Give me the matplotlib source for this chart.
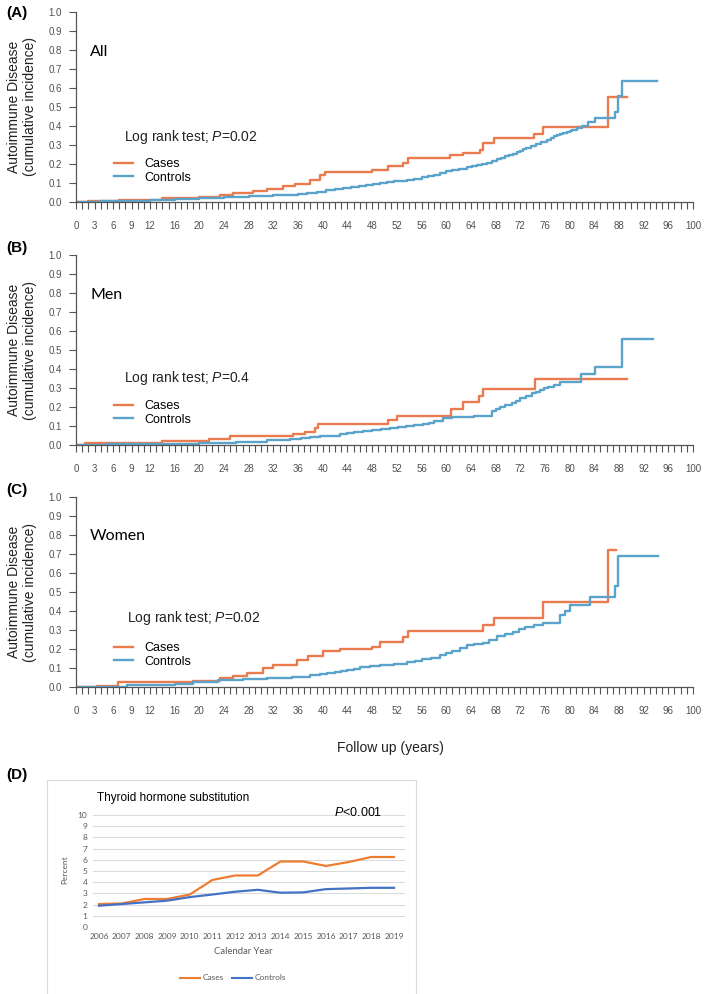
import matplotlib
matplotlib.use("Agg")
import matplotlib.pyplot as plt
from matplotlib.lines import Line2D
from matplotlib.patches import Rectangle

plt.rcParams['font.family'] = ['Liberation Sans', 'DejaVu Sans']
plt.rcParams['mathtext.fontset'] = 'custom'
plt.rcParams['mathtext.rm'] = 'Liberation Sans'
plt.rcParams['mathtext.it'] = 'Liberation Sans:italic'

# ---- Kaplan-Meier style cumulative incidence ----
a_case_t = [0, 2, 7, 14, 20, 23.3, 25.5, 28.7, 31, 33.5, 35.5, 38, 39.5, 40.3, 48, 50.6, 53, 53.8,
            60.6, 62.7, 65.5, 66, 67.7, 74.2, 75.7, 86.2, 89.3]
a_case_v = [0, 0.005, 0.012, 0.02, 0.028, 0.037, 0.048, 0.058, 0.068, 0.085, 0.095, 0.116, 0.143, 0.16,
            0.17, 0.19, 0.205, 0.23, 0.25, 0.26, 0.275, 0.31, 0.335, 0.36, 0.395, 0.55, 0.55]
a_ctrl_t = [0, 4, 8, 12, 16, 20, 24, 28, 32, 34, 36, 37.5, 39, 40.5, 42, 43.3, 44.5, 45.8, 47, 48.2, 49.3,
            50.4, 51.5, 52.6, 53.6, 54.8, 56, 57, 58, 59, 60, 61, 62, 63.3, 64.2, 65, 65.8, 66.6, 67.4,
            68.2, 68.9, 69.5, 70.2, 70.8, 71.4, 72, 72.5, 73, 73.8, 74.5, 75.4, 76.3, 77, 77.5, 78, 78.4,
            79, 79.5, 80, 80.4, 81.2, 82, 83, 84.1, 87.4, 87.8, 88.5, 94.2]
a_ctrl_v = [0, 0.004, 0.007, 0.01, 0.014, 0.02, 0.025, 0.03, 0.035, 0.038, 0.042, 0.048, 0.055, 0.061,
            0.068, 0.074, 0.08, 0.085, 0.09, 0.095, 0.1, 0.104, 0.108, 0.112, 0.116, 0.123, 0.13, 0.137,
            0.143, 0.153, 0.165, 0.17, 0.175, 0.186, 0.19, 0.195, 0.2, 0.205, 0.215, 0.227, 0.233, 0.24,
            0.247, 0.254, 0.261, 0.268, 0.277, 0.285, 0.295, 0.305, 0.316, 0.328, 0.337, 0.345, 0.352,
            0.36, 0.365, 0.37, 0.375, 0.38, 0.39, 0.4, 0.42, 0.44, 0.476, 0.556, 0.635, 0.635]

b_case_t = [0, 1.4, 14, 21.5, 25, 35.2, 37.1, 38.7, 39.2, 50.6, 52, 60.8, 62.7, 65.3, 66, 74.4, 89.3]
b_case_v = [0, 0.009, 0.02, 0.03, 0.045, 0.058, 0.07, 0.09, 0.11, 0.13, 0.153, 0.19, 0.225, 0.26, 0.297,
            0.347, 0.347]
b_ctrl_t = [0, 5, 12, 20, 26, 31, 34.7, 36.5, 38, 39.5, 41, 42.8, 44, 45, 46.5, 48, 49.5, 50.9, 52.2,
            53.5, 54.8, 56.2, 57.2, 58, 59.5, 61, 62, 64.5, 66.8, 67.4, 68, 68.7, 69.6, 70.6, 71.3, 72,
            73, 73.9, 74.5, 75.2, 75.9, 76.5, 77.5, 78.4, 81.8, 84.1, 88.5, 93.5]
b_ctrl_v = [0, 0.004, 0.007, 0.012, 0.018, 0.024, 0.03, 0.035, 0.04, 0.045, 0.05, 0.057, 0.062, 0.068,
            0.073, 0.078, 0.084, 0.09, 0.095, 0.1, 0.105, 0.11, 0.118, 0.125, 0.14, 0.145, 0.148, 0.152,
            0.155, 0.178, 0.19, 0.2, 0.21, 0.22, 0.232, 0.245, 0.258, 0.272, 0.28, 0.29, 0.298, 0.305,
            0.318, 0.33, 0.372, 0.41, 0.558, 0.558]

c_case_t = [0, 3.4, 6.8, 19, 23.3, 25.4, 27.7, 30.3, 32, 35.8, 37.6, 40, 42.8, 48, 49.3, 53, 53.8, 66,
            67.7, 75.7, 86.2, 87.5]
c_case_v = [0, 0.005, 0.027, 0.03, 0.047, 0.058, 0.074, 0.1, 0.116, 0.142, 0.163, 0.19, 0.2, 0.21, 0.237,
            0.264, 0.295, 0.326, 0.363, 0.446, 0.72, 0.72]
c_ctrl_t = [0, 8.3, 16, 19, 23, 27, 31, 35, 38, 39.5, 40.7, 42, 43, 44, 45, 46, 47.7, 49.3, 51.5, 53.6,
            55, 56, 57.5, 59, 60, 61, 62.2, 63.3, 64.5, 66, 67, 68.2, 69.5, 70.8, 71.8, 72.8, 74.2, 75.7,
            78.4, 79.2, 80, 83.3, 87.4, 87.8, 94.3]
c_ctrl_v = [0, 0.01, 0.016, 0.027, 0.035, 0.042, 0.048, 0.053, 0.062, 0.068, 0.074, 0.078, 0.082, 0.09,
            0.097, 0.105, 0.11, 0.116, 0.123, 0.13, 0.138, 0.145, 0.155, 0.168, 0.178, 0.19, 0.205, 0.22,
            0.225, 0.23, 0.25, 0.27, 0.28, 0.29, 0.305, 0.317, 0.327, 0.337, 0.38, 0.40, 0.43, 0.473,
            0.53, 0.69, 0.69]

x_labels = [0, 3, 6, 9, 12] + list(range(16, 101, 4))

# ---- panel D ----
years = list(range(2006, 2020))
d_cases = [2.05, 2.1, 2.5, 2.5, 2.9, 4.2, 4.6, 4.6, 5.85, 5.85, 5.45, 5.8, 6.25, 6.25]
d_ctrls = [1.9, 2.05, 2.2, 2.35, 2.67, 2.9, 3.15, 3.32, 3.06, 3.09, 3.38, 3.44, 3.5, 3.5]

orange = '#E97B4F'
blue = '#5AA3CB'
W, H = 709, 994

fig = plt.figure(figsize=(W / 100, H / 100), dpi=100)


def px(x, y):
    return x / W, 1 - y / H


def km_panel(bottom_px, case_t, case_v, ctrl_t, ctrl_v, letter, group, ptext,
             letter_y, group_y, p_xy, leg_y):
    left, right, top = 76, 693, bottom_px - 190
    ax = fig.add_axes([left / W, 1 - bottom_px / H, (right - left) / W, 190 / H])
    ax.step(case_t, case_v, where='post', color=orange, lw=1.7)
    ax.step(ctrl_t, ctrl_v, where='post', color=blue, lw=1.7)
    ax.set_xlim(0, 100)
    ax.set_ylim(0, 1)
    ax.spines['top'].set_visible(False)
    ax.spines['right'].set_visible(False)
    for s in ['left', 'bottom']:
        ax.spines[s].set_color('#555555')
        ax.spines[s].set_linewidth(0.9)
    ax.set_yticks([i / 10 for i in range(11)])
    ax.set_yticklabels([f'{i / 10:.1f}' for i in range(11)])
    ax.set_xticks(range(0, 101))
    ax.set_xticklabels([str(i) if i in x_labels else '' for i in range(0, 101)])
    ax.tick_params(axis='both', colors='#555555', labelsize=7, labelcolor='#505050',
                   length=5, width=0.8)
    ax.tick_params(axis='x', pad=9)
    ax.tick_params(axis='y', pad=5)

    fig.text(*px(22, (top + bottom_px) / 2), 'Autoimmune Disease\n(cumulative incidence)',
             rotation=90, ha='center', va='center', fontsize=10, linespacing=1.15,
             color='#222222')
    fig.text(*px(6, letter_y), letter, fontsize=11, fontweight='bold', va='center')
    fig.text(*px(90, group_y), group, fontsize=11.5, va='center', family=['Lato', 'DejaVu Sans'])
    fig.text(*px(*p_xy), ptext, fontsize=10, va='center', color='#222222')

    handles = [Line2D([], [], color=orange, lw=1.7), Line2D([], [], color=blue, lw=1.7)]
    ax.legend(handles, ['Cases', 'Controls'], loc='center left',
              bbox_to_anchor=px(114, leg_y), bbox_transform=fig.transFigure,
              frameon=False, fontsize=9, handlelength=1.5, handletextpad=0.9,
              labelspacing=0.1, borderpad=0, borderaxespad=0)
    return ax


km_panel(202, a_case_t, a_case_v, a_ctrl_t, a_ctrl_v, '(A)', 'All',
         r'Log rank test; $\it{P}$=0.02', 13, 52, (124, 137), 171)
km_panel(445, b_case_t, b_case_v, b_ctrl_t, b_ctrl_v, '(B)', 'Men',
         r'Log rank test; $\it{P}$=0.4', 248, 295, (124, 378), 413)
km_panel(687, c_case_t, c_case_v, c_ctrl_t, c_ctrl_v, '(C)', 'Women',
         r'Log rank test; $\it{P}$=0.02', 490, 536, (127, 618), 655)

fig.text(*px(390, 748), 'Follow up (years)', ha='center', va='center', fontsize=10,
         color='#222222')

# ---- panel D ----
fig.text(*px(6, 775), '(D)', fontsize=11, fontweight='bold', va='center')
fig.patches.append(Rectangle(px(47, 1000), 369 / W, 220 / H, transform=fig.transFigure,
                             facecolor='none', edgecolor='#d9d9d9', lw=0.8))

axd = fig.add_axes([93 / W, 1 - 927 / H, (405 - 93) / W, 112 / H])
xs = list(range(len(years)))
axd.plot(xs, d_cases, color='#ED7D31', lw=1.6)
axd.plot(xs, d_ctrls, color='#4472C4', lw=1.6)
axd.set_xlim(-0.264, 13.485)
axd.set_ylim(0, 10)
axd.set_yticks(range(0, 11))
axd.set_xticks(xs)
axd.set_xticklabels([str(y) for y in years])
axd.grid(axis='y', color='#d9d9d9', lw=0.7)
axd.set_axisbelow(True)
for s in axd.spines.values():
    s.set_visible(False)
axd.tick_params(length=0, labelsize=6, labelcolor='#595959', pad=4)
for lab in axd.get_xticklabels() + axd.get_yticklabels():
    lab.set_family(['Lato', 'DejaVu Sans'])

fig.text(*px(65, 870), 'Percent', rotation=90, ha='center', va='center', fontsize=6,
         color='#595959', family=['Lato', 'DejaVu Sans'])
fig.text(*px(243, 952), 'Calendar Year', ha='center', va='center', fontsize=6.8,
         color='#595959', family=['Lato', 'DejaVu Sans'])
fig.text(*px(97, 798), 'Thyroid hormone substitution', ha='left', va='center', fontsize=8.5)
fig.text(*px(334, 813), r'$\it{P}$<0.001', ha='left', va='center', fontsize=9)

dh = [Line2D([], [], color='#ED7D31', lw=1.5), Line2D([], [], color='#4472C4', lw=1.5)]
leg = axd.legend(dh, ['Cases', 'Controls'], loc='center', bbox_to_anchor=px(233, 978),
                 bbox_transform=fig.transFigure, ncol=2, frameon=False, fontsize=6,
                 handlelength=2.4, handletextpad=0.3, columnspacing=1.0, borderpad=0)
for t in leg.get_texts():
    t.set_color('#595959')
    t.set_family(['Lato', 'DejaVu Sans'])

fig.savefig('out.png', dpi=100)
